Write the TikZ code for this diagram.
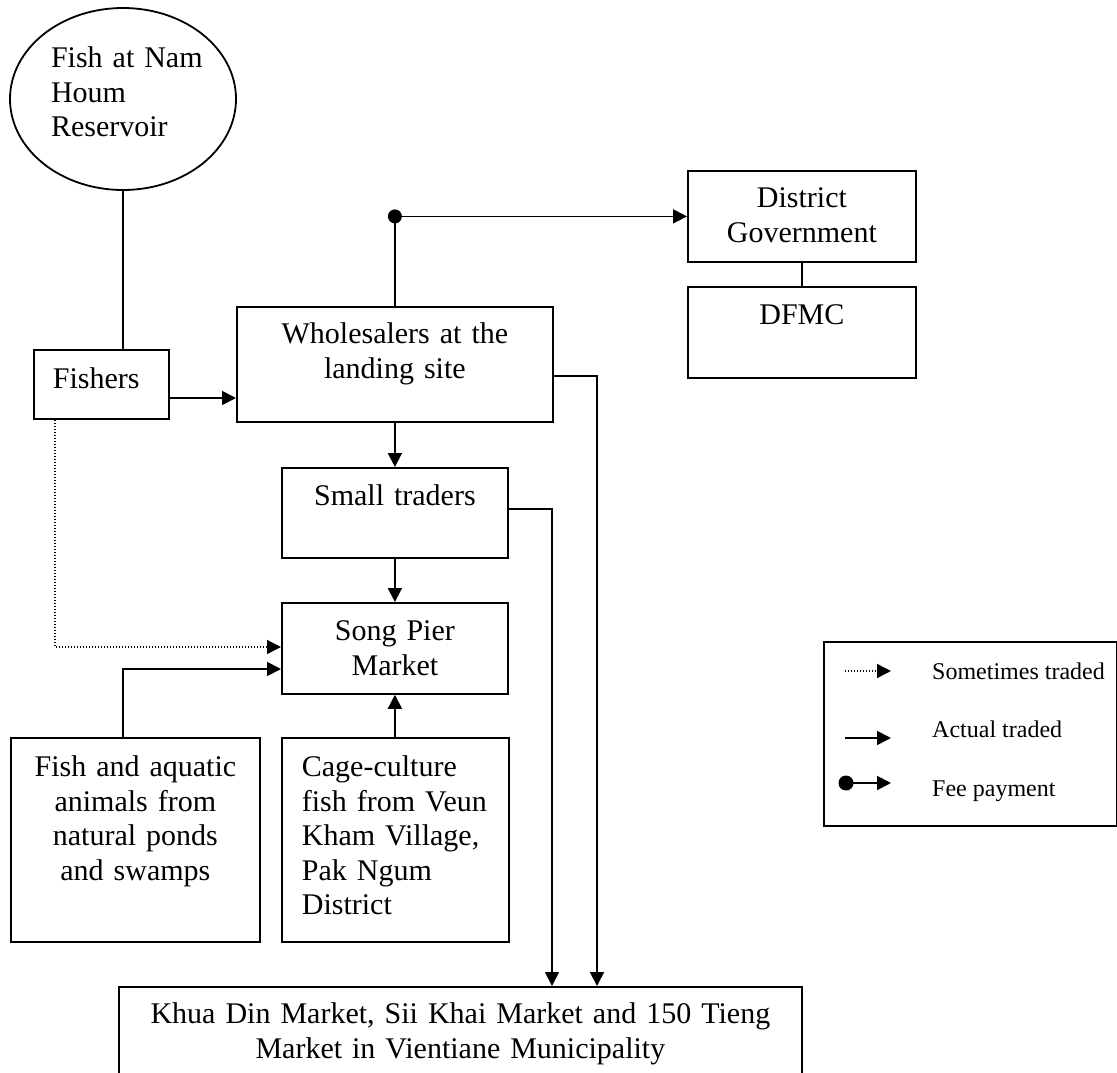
\documentclass[tikz,border=0pt]{standalone}
\usepackage{fontspec}
\setmainfont{Liberation Serif}
\usetikzlibrary{arrows.meta, shapes.geometric}
\tikzstyle{labelbox} = [draw=black, line width=1.8pt, inner sep=0pt, anchor=north west, align=center, font=\fontsize{30}{34.5}\selectfont]
\tikzstyle{edge} = [black, line width=1.8pt]
\tikzstyle{trade} = [edge, -{Triangle[length=14pt, width=14pt]}]
\tikzstyle{sometimes} = [black, line width=1.4pt, dash pattern=on 1.4pt off 1.6pt, -{Triangle[length=14pt, width=14pt]}]
\tikzstyle{legendtext} = [anchor=base west, inner sep=0pt, font=\fontsize{24}{28}\selectfont]

\begin{document}
\begin{tikzpicture}[x=1pt, y=-1pt]

\useasboundingbox (0,0) rectangle (1117,1073);
\clip (0,0) rectangle (1117,1073);

\node[draw=black, line width=1.8pt, ellipse, inner sep=0pt, minimum width=226pt, minimum height=182pt, text width=144pt, align=left, text height=30pt, text depth=92pt, font=\fontsize{30}{34.5}\selectfont] (res) at (123,99) {\mbox{Fish at Nam}\\Houm\\Reservoir};
\node[labelbox, align=left, inner xsep=19pt, text width=97pt, text height=39pt, text depth=30pt] (fishers) at (33,349) {Fishers};
\node[labelbox, text width=316pt, text height=37pt, text depth=78pt] (whole) at (236,306) {Wholesalers at the\\landing site};
\node[labelbox, text width=228pt, text height=37pt, text depth=54pt] (dg) at (687,170) {District\\Government};
\node[labelbox, text width=228pt, text height=38pt, text depth=53pt] (dfmc) at (687,286) {DFMC};
\node[labelbox, text width=226pt, text height=38pt, text depth=52pt] (small) at (281,467) {Small traders};
\node[labelbox, text width=226pt, text height=38pt, text depth=53pt] (song) at (281,602) {Song Pier\\Market};
\node[labelbox, text width=249pt, text height=39pt, text depth=165pt] (aqua) at (10,737) {Fish and aquatic\\animals from\\natural ponds\\and swamps};
\node[labelbox, align=left, inner xsep=20pt, text width=187pt, text height=39pt, text depth=165pt] (cage) at (281,737) {Cage-culture\\\mbox{fish from Veun}\\Kham Village,\\Pak Ngum\\District};
\node[labelbox, text width=683pt, text height=37pt, text depth=80pt] (mkt) at (118,986) {Khua Din Market, Sii Khai Market and 150 Tieng\\Market in Vientiane Municipality};

\draw[edge] (res.south) -- (res.south |- fishers.north);
\draw[trade] (fishers.east |- 0,398) -- (whole.west |- 0,398);
\coordinate (fee) at (whole.north |- dg.west);
\draw[edge] (whole.north) -- (fee);
\draw[trade] (fee) -- (dg.west);
\fill (fee) circle [radius=7pt];
\draw[edge] (dg.south) -- (dfmc.north);
\draw[trade] (whole.east |- 0,376) -| (mkt.north -| 597,0);
\draw[trade] (whole.south) -- (small.north);
\draw[trade] (small.east |- 0,509) -| (mkt.north -| 552,0);
\draw[trade] (small.south) -- (song.north);
\draw[sometimes] (fishers.south -| 55,0) |- (song.west |- 0,647);
\draw[trade] (aqua.north -| 123,0) |- (song.west |- 0,669);
\draw[trade] (cage.north -| song.south) -- (song.south);

% legend
\node[draw=black, line width=1.8pt, anchor=north west, inner sep=0pt, minimum width=293pt, minimum height=184pt] (legend) at (823,641) {};
\coordinate (s1) at (845,671);
\coordinate (s2) at (891,671);
\coordinate (a1) at (845,738);
\coordinate (a2) at (891,738);
\coordinate (f1) at (846,783);
\coordinate (f2) at (891,783);
\draw[sometimes] (s1) -- (s2);
\draw[trade] (a1) -- (a2);
\draw[trade] (f1) -- (f2);
\fill (f1) circle [radius=7.5pt];
\node[legendtext] (sometext) at (932,679) {Sometimes traded};
\node[legendtext] (actualtext) at (932,737) {Actual traded};
\node[legendtext] (feetext) at (932,796) {Fee payment};

\end{tikzpicture}
\end{document}
